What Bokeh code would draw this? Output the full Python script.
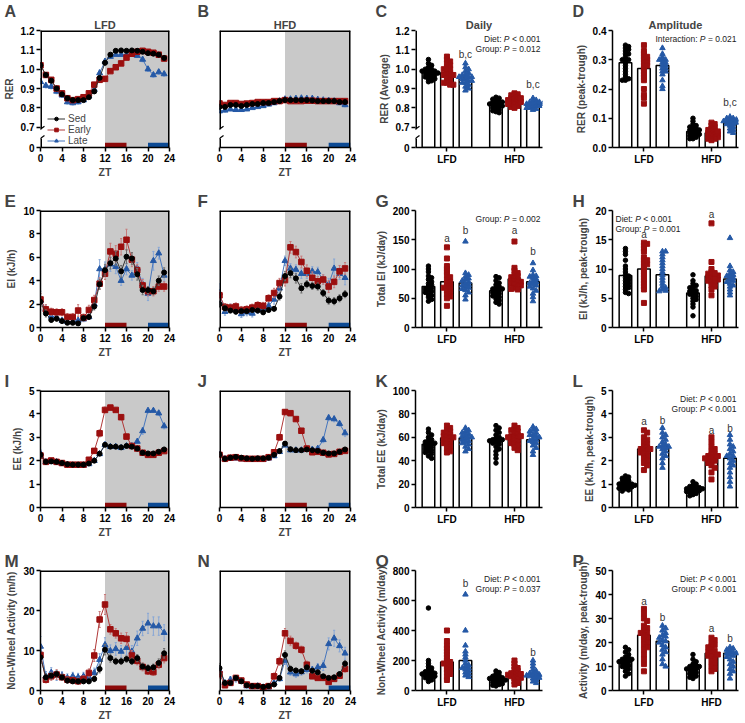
import numpy as np
from bokeh.plotting import figure
from bokeh.layouts import gridplot
from bokeh.models import (BoxAnnotation, Label, Legend, LegendItem, FixedTicker,
                          CustomJSTickFormatter, Range1d, Title)
from bokeh.embed import file_html
from bokeh.resources import INLINE

FONT = "Liberation Sans"
ZT = list(range(24))
GROUPS = ["Sed", "Early", "Late"]
DIETS = ["LFD", "HFD"]
DARK_PHASE = (12, 24)
EARLY_WINDOW = (12, 16)
LATE_WINDOW = (20, 24)
ZT_TICKS = [0, 4, 8, 12, 16, 20, 24]

# ---------------- hourly RER (A, B)
rer_lfd_sed = [1.02, 0.97, 0.94, 0.90, 0.87, 0.85, 0.84, 0.84, 0.84, 0.855, 0.885, 0.955, 1.033, 1.075, 1.095, 1.097, 1.095, 1.097, 1.095, 1.09, 1.083, 1.08, 1.075, 1.058]
rer_lfd_early = [1.02, 0.97, 0.945, 0.90, 0.875, 0.85, 0.84, 0.845, 0.855, 0.875, 0.92, 0.945, 0.95, 0.99, 1.01, 1.03, 1.06, 1.08, 1.09, 1.095, 1.09, 1.085, 1.075, 1.055]
rer_lfd_late = [0.935, 0.915, 0.91, 0.885, 0.865, 0.83, 0.825, 0.83, 0.84, 0.86, 0.895, 0.98, 1.04, 1.065, 1.075, 1.075, 1.075, 1.075, 1.07, 1.05, 1.0, 0.97, 0.985, 0.975]
rer_lfd_sed_err = [0.01, 0.01, 0.01, 0.01, 0.01, 0.008, 0.008, 0.008, 0.008, 0.008, 0.01, 0.012, 0.012, 0.008, 0.006, 0.006, 0.006, 0.006, 0.006, 0.006, 0.006, 0.006, 0.006, 0.008]
rer_lfd_early_err = [0.01, 0.01, 0.012, 0.01, 0.01, 0.01, 0.008, 0.01, 0.01, 0.01, 0.012, 0.012, 0.012, 0.01, 0.01, 0.01, 0.01, 0.01, 0.008, 0.008, 0.008, 0.008, 0.008, 0.01]
rer_lfd_late_err = [0.015, 0.012, 0.012, 0.012, 0.01, 0.01, 0.01, 0.01, 0.01, 0.012, 0.015, 0.015, 0.012, 0.01, 0.008, 0.008, 0.008, 0.008, 0.01, 0.012, 0.012, 0.012, 0.012, 0.012]

rer_hfd_sed = [0.805, 0.805, 0.815, 0.815, 0.81, 0.815, 0.82, 0.82, 0.825, 0.825, 0.83, 0.835, 0.84, 0.84, 0.84, 0.84, 0.84, 0.838, 0.835, 0.835, 0.835, 0.835, 0.83, 0.83]
rer_hfd_early = [0.823, 0.815, 0.825, 0.825, 0.82, 0.822, 0.825, 0.83, 0.83, 0.83, 0.835, 0.835, 0.84, 0.835, 0.835, 0.835, 0.837, 0.837, 0.835, 0.835, 0.835, 0.835, 0.835, 0.835]
rer_hfd_late = [0.783, 0.787, 0.793, 0.79, 0.79, 0.793, 0.80, 0.805, 0.81, 0.818, 0.825, 0.835, 0.845, 0.845, 0.848, 0.85, 0.848, 0.848, 0.843, 0.84, 0.838, 0.835, 0.825, 0.815]
rer_hfd_sed_err = [0.008, 0.008, 0.008, 0.008, 0.007, 0.007, 0.007, 0.007, 0.007, 0.007, 0.007, 0.007, 0.006, 0.006, 0.006, 0.006, 0.006, 0.006, 0.006, 0.006, 0.006, 0.006, 0.007, 0.008]
rer_hfd_early_err = [0.008, 0.008, 0.008, 0.008, 0.007, 0.007, 0.007, 0.007, 0.007, 0.007, 0.007, 0.007, 0.006, 0.006, 0.006, 0.006, 0.006, 0.006, 0.006, 0.006, 0.006, 0.006, 0.007, 0.008]
rer_hfd_late_err = [0.008, 0.008, 0.008, 0.008, 0.007, 0.007, 0.007, 0.007, 0.007, 0.007, 0.007, 0.007, 0.006, 0.006, 0.006, 0.006, 0.006, 0.006, 0.006, 0.006, 0.007, 0.008, 0.008, 0.01]

# ---------------- hourly EI (E, F)
ei_lfd_sed = [2.2, 1.2, 0.65, 0.75, 0.55, 0.4, 0.4, 0.35, 0.8, 0.9, 1.8, 3.7, 4.9, 5.5, 5.9, 4.8, 6.05, 5.9, 4.55, 3.2, 3.2, 3.1, 4.0, 4.7]
ei_lfd_early = [2.4, 1.55, 1.35, 1.3, 1.3, 0.9, 0.9, 1.45, 0.85, 1.5, 2.35, 3.75, 4.6, 6.5, 6.3, 6.9, 7.5, 5.8, 4.9, 3.6, 3.1, 3.1, 3.5, 3.5]
ei_lfd_late = [2.3, 1.55, 0.95, 0.85, 0.6, 0.5, 0.5, 0.6, 0.7, 0.9, 2.0, 5.0, 5.0, 5.4, 5.2, 4.0, 5.0, 4.45, 5.05, 3.7, 2.9, 5.7, 6.35, 4.45]
ei_lfd_sed_err = [0.4, 0.3, 0.2, 0.2, 0.2, 0.15, 0.15, 0.15, 0.2, 0.2, 0.3, 0.4, 0.5, 0.5, 0.6, 0.5, 0.6, 0.5, 0.5, 0.4, 0.3, 0.3, 0.4, 0.4]
ei_lfd_early_err = [0.5, 0.4, 0.3, 0.3, 0.3, 0.3, 0.3, 0.5, 0.3, 0.4, 0.4, 0.5, 0.5, 0.7, 0.7, 0.7, 0.9, 0.6, 0.5, 0.5, 0.4, 0.4, 0.4, 0.4]
ei_lfd_late_err = [0.8, 0.4, 0.3, 0.2, 0.2, 0.2, 0.2, 0.2, 0.2, 0.2, 0.4, 0.8, 0.6, 0.6, 0.6, 0.4, 0.5, 0.4, 0.5, 0.5, 0.6, 0.8, 0.5, 0.5]

ei_hfd_sed = [2.0, 1.65, 1.45, 1.35, 1.4, 1.4, 1.5, 1.45, 1.3, 1.5, 1.6, 2.65, 4.4, 4.65, 4.2, 3.35, 3.7, 3.55, 3.5, 2.95, 2.3, 2.25, 2.5, 2.85]
ei_hfd_early = [2.75, 1.75, 1.7, 1.8, 1.5, 1.55, 1.7, 1.9, 1.85, 2.5, 2.95, 3.8, 4.05, 6.85, 6.45, 5.6, 4.85, 4.25, 3.95, 4.1, 3.5, 3.9, 4.8, 5.05]
ei_hfd_late = [2.95, 1.35, 1.7, 1.55, 1.15, 1.3, 1.2, 1.5, 1.6, 1.85, 2.4, 3.35, 5.7, 5.05, 4.95, 4.6, 4.6, 4.8, 4.75, 4.1, 3.7, 5.05, 4.6, 4.25]
ei_hfd_sed_err = [0.3, 0.25, 0.2, 0.2, 0.2, 0.2, 0.2, 0.2, 0.2, 0.2, 0.2, 0.3, 0.4, 0.4, 0.4, 0.4, 0.3, 0.3, 0.3, 0.3, 0.3, 0.3, 0.3, 0.3]
ei_hfd_early_err = [0.4, 0.3, 0.3, 0.3, 0.3, 0.3, 0.3, 0.3, 0.3, 0.3, 0.4, 0.4, 0.5, 0.5, 0.5, 0.5, 0.5, 0.5, 0.4, 0.4, 0.5, 0.5, 0.5, 0.5]
ei_hfd_late_err = [0.8, 0.3, 0.3, 0.3, 0.3, 0.3, 0.3, 0.3, 0.3, 0.3, 0.4, 0.4, 0.4, 0.4, 0.4, 0.4, 0.4, 0.4, 0.4, 0.4, 0.5, 0.8, 0.5, 0.6]

# ---------------- hourly EE (I, J)
ee_lfd_sed = [2.25, 1.95, 1.97, 1.95, 1.9, 1.85, 1.83, 1.83, 1.83, 1.88, 2.0, 2.3, 2.68, 2.6, 2.6, 2.57, 2.63, 2.6, 2.52, 2.34, 2.31, 2.31, 2.38, 2.48]
ee_lfd_early = [2.22, 1.95, 2.01, 1.95, 1.9, 1.83, 1.83, 1.83, 1.83, 2.04, 2.42, 3.17, 4.17, 4.27, 4.17, 3.86, 3.03, 2.63, 2.52, 2.34, 2.25, 2.25, 2.34, 2.41]
ee_lfd_late = [2.31, 1.95, 1.95, 1.95, 1.87, 1.83, 1.8, 1.8, 1.8, 1.86, 2.0, 2.29, 2.68, 2.6, 2.6, 2.55, 2.63, 2.63, 2.82, 3.27, 4.14, 4.14, 4.03, 3.48]
ee_lfd_sed_err = [0.1, 0.05, 0.05, 0.05, 0.05, 0.05, 0.05, 0.05, 0.05, 0.05, 0.05, 0.07, 0.07, 0.05, 0.05, 0.05, 0.05, 0.05, 0.05, 0.05, 0.05, 0.05, 0.05, 0.07]
ee_lfd_early_err = [0.1, 0.05, 0.05, 0.05, 0.05, 0.05, 0.05, 0.05, 0.05, 0.07, 0.1, 0.15, 0.12, 0.08, 0.08, 0.1, 0.1, 0.07, 0.06, 0.05, 0.06, 0.06, 0.06, 0.08]
ee_lfd_late_err = [0.15, 0.05, 0.05, 0.05, 0.05, 0.05, 0.05, 0.05, 0.05, 0.05, 0.05, 0.07, 0.07, 0.05, 0.05, 0.05, 0.05, 0.06, 0.07, 0.15, 0.1, 0.08, 0.1, 0.12]

ee_hfd_sed = [2.27, 2.08, 2.13, 2.16, 2.13, 2.1, 2.08, 2.1, 2.1, 2.13, 2.25, 2.41, 2.73, 2.49, 2.45, 2.45, 2.48, 2.45, 2.42, 2.34, 2.31, 2.31, 2.38, 2.48]
ee_hfd_early = [2.25, 2.08, 2.13, 2.15, 2.1, 2.08, 2.08, 2.08, 2.08, 2.15, 2.36, 3.0, 4.08, 4.03, 3.78, 3.28, 2.52, 2.36, 2.38, 2.34, 2.27, 2.29, 2.38, 2.42]
ee_hfd_late = [2.27, 2.08, 2.1, 2.1, 2.07, 2.04, 2.04, 2.04, 2.04, 2.1, 2.2, 2.38, 2.66, 2.45, 2.45, 2.45, 2.49, 2.48, 2.52, 2.89, 3.83, 3.78, 3.58, 3.18]
ee_hfd_sed_err = [0.07, 0.05, 0.05, 0.05, 0.05, 0.05, 0.05, 0.05, 0.05, 0.05, 0.05, 0.07, 0.07, 0.05, 0.05, 0.05, 0.05, 0.05, 0.05, 0.05, 0.05, 0.05, 0.05, 0.06]
ee_hfd_early_err = [0.07, 0.05, 0.05, 0.05, 0.05, 0.05, 0.05, 0.05, 0.05, 0.05, 0.08, 0.13, 0.1, 0.08, 0.08, 0.1, 0.08, 0.06, 0.05, 0.05, 0.05, 0.05, 0.06, 0.07]
ee_hfd_late_err = [0.07, 0.05, 0.05, 0.05, 0.05, 0.05, 0.05, 0.05, 0.05, 0.05, 0.05, 0.07, 0.07, 0.05, 0.05, 0.05, 0.05, 0.06, 0.07, 0.12, 0.12, 0.12, 0.12, 0.15]

# ---------------- hourly non-wheel activity (M, N)
act_lfd_sed = [8.3, 3.3, 3.7, 4.1, 3.3, 2.5, 2.3, 2.3, 2.3, 2.3, 2.9, 5.4, 10.2, 8.1, 7.3, 7.3, 7.85, 7.3, 8.1, 6.0, 5.6, 5.8, 6.9, 9.3]
act_lfd_early = [8.9, 2.7, 3.55, 4.0, 3.3, 2.7, 2.55, 2.3, 2.9, 4.4, 8.75, 17.75, 21.5, 15.3, 14.3, 13.05, 12.9, 8.75, 7.4, 5.9, 4.8, 4.6, 6.45, 8.1]
act_lfd_late = [11.0, 3.55, 4.5, 3.7, 3.7, 3.15, 3.55, 3.3, 3.55, 3.3, 4.4, 7.7, 11.4, 9.9, 10.4, 9.75, 10.7, 9.75, 13.05, 15.5, 16.8, 16.1, 16.1, 14.45]
act_lfd_sed_err = [1.5, 0.8, 0.8, 0.8, 0.7, 0.7, 0.6, 0.6, 0.6, 0.6, 0.7, 1.0, 1.3, 1.0, 0.8, 0.8, 0.8, 0.8, 0.9, 0.8, 0.8, 0.8, 1.0, 1.2]
act_lfd_early_err = [2.0, 0.8, 1.0, 1.2, 0.8, 0.8, 0.8, 0.8, 0.8, 1.0, 1.5, 2.0, 2.5, 1.2, 1.2, 1.3, 1.6, 1.2, 1.0, 1.0, 0.8, 0.8, 1.0, 1.2]
act_lfd_late_err = [2.5, 1.2, 1.2, 1.2, 1.0, 1.0, 1.0, 1.0, 1.0, 1.0, 1.2, 1.5, 1.8, 1.5, 1.6, 1.5, 1.8, 1.5, 1.8, 1.8, 2.5, 2.3, 2.3, 2.0]

act_hfd_sed = [5.6, 1.9, 1.9, 3.15, 2.3, 1.3, 1.1, 1.1, 0.9, 1.1, 1.5, 3.15, 8.9, 5.4, 5.0, 4.8, 5.8, 4.95, 4.55, 3.55, 3.15, 3.3, 4.1, 6.7]
act_hfd_early = [4.1, 1.3, 1.9, 3.15, 2.5, 1.5, 1.1, 1.1, 0.8, 1.1, 3.55, 7.3, 14.3, 12.4, 11.2, 10.2, 6.45, 3.55, 3.15, 3.15, 2.15, 2.9, 3.7, 5.4]
act_hfd_late = [5.0, 1.9, 2.7, 2.9, 2.3, 1.1, 0.9, 1.1, 0.8, 0.8, 1.9, 2.9, 7.5, 4.55, 4.1, 4.6, 5.2, 5.2, 5.8, 6.2, 11.65, 13.05, 11.15, 9.3]
act_hfd_sed_err = [1.2, 0.5, 0.5, 0.6, 0.5, 0.4, 0.3, 0.3, 0.3, 0.3, 0.4, 0.6, 1.0, 0.7, 0.6, 0.6, 0.6, 0.6, 0.6, 0.5, 0.5, 0.5, 0.6, 0.8]
act_hfd_early_err = [1.0, 0.5, 0.5, 0.6, 0.5, 0.4, 0.3, 0.3, 0.3, 0.4, 0.8, 1.0, 1.2, 1.2, 0.9, 0.9, 0.9, 0.6, 0.5, 0.5, 0.5, 0.5, 0.6, 0.8]
act_hfd_late_err = [1.2, 0.6, 0.8, 0.8, 0.6, 0.4, 0.3, 0.3, 0.3, 0.3, 0.5, 0.6, 1.0, 0.8, 0.8, 0.8, 0.8, 0.8, 0.9, 1.2, 1.5, 2.0, 1.5, 1.5]

# ---------------- C: daily RER
rer_avg_means = {"LFD": [0.985, 0.98, 0.955], "HFD": [0.82, 0.83, 0.815]}
rer_avg_lfd_sed = [1.05, 1.03, 1.02, 1.01, 1.0, 1.0, 0.99, 0.99, 0.99, 0.98, 0.98, 0.98, 0.97, 0.97, 0.96, 0.96, 0.95, 0.95, 0.94, 0.935]
rer_avg_lfd_early = [1.065, 1.05, 1.04, 1.03, 1.02, 1.01, 1.0, 1.0, 0.99, 0.98, 0.97, 0.97, 0.96, 0.95, 0.94, 0.93, 0.93, 0.92, 0.92, 0.97]
rer_avg_lfd_late = [1.03, 1.01, 1.0, 0.99, 0.98, 0.97, 0.97, 0.96, 0.96, 0.95, 0.95, 0.94, 0.94, 0.93, 0.93, 0.92, 0.91, 0.90, 0.89, 0.96]
rer_avg_hfd_sed = [0.855, 0.85, 0.845, 0.84, 0.835, 0.83, 0.825, 0.82, 0.82, 0.815, 0.81, 0.805, 0.80, 0.795, 0.79, 0.785, 0.78, 0.775, 0.83, 0.81]
rer_avg_hfd_early = [0.875, 0.87, 0.865, 0.86, 0.855, 0.85, 0.845, 0.84, 0.835, 0.83, 0.825, 0.82, 0.815, 0.81, 0.805, 0.80, 0.84, 0.83, 0.85, 0.82]
rer_avg_hfd_late = [0.85, 0.84, 0.835, 0.83, 0.825, 0.82, 0.82, 0.815, 0.81, 0.81, 0.805, 0.80, 0.80, 0.795, 0.79, 0.83, 0.82]

# ---------------- D: RER amplitude
rer_amp_means = {"LFD": [0.29, 0.27, 0.28], "HFD": [0.055, 0.05, 0.085]}
rer_amp_lfd_sed = [0.35, 0.345, 0.34, 0.335, 0.33, 0.32, 0.31, 0.30, 0.30, 0.29, 0.28, 0.27, 0.26, 0.25, 0.24, 0.235, 0.23, 0.23, 0.30, 0.32]
rer_amp_lfd_early = [0.35, 0.33, 0.32, 0.31, 0.30, 0.30, 0.29, 0.28, 0.27, 0.26, 0.25, 0.24, 0.23, 0.20, 0.18, 0.17, 0.15, 0.29, 0.31, 0.28]
rer_amp_lfd_late = [0.34, 0.32, 0.31, 0.30, 0.30, 0.29, 0.29, 0.28, 0.28, 0.27, 0.27, 0.26, 0.26, 0.25, 0.23, 0.21, 0.20, 0.30]
rer_amp_hfd_sed = [0.10, 0.09, 0.08, 0.075, 0.07, 0.065, 0.06, 0.06, 0.055, 0.05, 0.05, 0.045, 0.045, 0.04, 0.04, 0.035, 0.03, 0.03, 0.06, 0.07]
rer_amp_hfd_early = [0.085, 0.08, 0.075, 0.07, 0.065, 0.06, 0.055, 0.05, 0.05, 0.045, 0.045, 0.04, 0.04, 0.035, 0.035, 0.03, 0.03, 0.025, 0.06, 0.055]
rer_amp_hfd_late = [0.105, 0.10, 0.10, 0.095, 0.09, 0.09, 0.085, 0.085, 0.08, 0.08, 0.075, 0.07, 0.065, 0.06, 0.055, 0.05, 0.09, 0.095]

# ---------------- G: total EI
ei_tot_means = {"LFD": [70, 78, 76], "HFD": [63, 83, 78]}
ei_tot_lfd_sed = [105, 100, 95, 88, 85, 82, 78, 75, 73, 70, 68, 66, 64, 62, 60, 57, 55, 52, 48, 45]
ei_tot_lfd_early = [137, 118, 105, 100, 95, 90, 86, 82, 78, 75, 72, 70, 68, 66, 63, 60, 57, 53, 50, 37]
ei_tot_lfd_late = [147, 93, 90, 87, 84, 82, 80, 78, 75, 73, 72, 70, 68, 66, 64, 60, 55, 48]
ei_tot_hfd_sed = [87, 85, 80, 76, 73, 70, 68, 66, 64, 62, 60, 58, 56, 54, 52, 49, 46, 43, 40, 66]
ei_tot_hfd_early = [147, 102, 97, 93, 90, 88, 86, 84, 82, 80, 79, 78, 76, 75, 73, 72, 70, 68, 66, 65]
ei_tot_hfd_late = [110, 98, 90, 88, 87, 85, 83, 80, 78, 76, 74, 72, 70, 67, 63, 58, 52, 45]

# ---------------- H: EI amplitude
ei_amp_means = {"LFD": [8.9, 10.0, 9.0], "HFD": [5.9, 8.8, 8.3]}
ei_amp_lfd_sed = [13.5, 13.0, 12.5, 11.5, 10.5, 10.0, 9.5, 9.0, 8.8, 8.5, 8.3, 8.0, 7.8, 7.5, 7.3, 7.0, 6.8, 6.5, 6.0, 5.8]
ei_amp_lfd_early = [14.5, 14.3, 14.0, 13.5, 13.0, 12.0, 11.5, 11.0, 10.5, 10.0, 9.5, 9.0, 8.5, 8.0, 7.5, 7.0, 6.5, 4.2, 10.8, 11.5]
ei_amp_lfd_late = [13.0, 13.0, 12.5, 12.0, 11.5, 11.0, 10.5, 10.0, 9.5, 9.0, 8.5, 8.0, 7.5, 7.0, 6.8, 6.5, 6.3, 6.2]
ei_amp_hfd_sed = [9.0, 8.0, 7.5, 7.2, 7.0, 6.8, 6.5, 6.3, 6.0, 5.8, 5.5, 5.3, 5.0, 4.8, 4.5, 4.0, 3.5, 2.0, 6.2, 5.7]
ei_amp_hfd_early = [17.8, 11.2, 10.0, 9.5, 9.2, 9.0, 8.8, 8.6, 8.4, 8.2, 8.0, 7.8, 7.5, 7.2, 7.0, 6.5, 5.5, 8.9, 8.3, 9.3]
ei_amp_hfd_late = [15.3, 10.5, 9.8, 9.5, 9.2, 9.0, 8.8, 8.5, 8.2, 8.0, 7.8, 7.5, 7.2, 7.0, 6.5, 6.0, 5.5, 8.7]

# ---------------- K: total EE
ee_tot_means = {"LFD": [54, 59.5, 59.5], "HFD": [56, 59.5, 58]}
ee_tot_lfd_sed = [67, 64, 62, 60, 58, 57, 56, 55, 54, 53, 52, 51, 50, 49, 48, 47, 46, 44, 42, 55]
ee_tot_lfd_early = [70, 68, 66, 65, 64, 63, 62, 61, 60, 59, 58, 57, 56, 55, 54, 52, 50, 48, 47, 60]
ee_tot_lfd_late = [68, 66, 65, 64, 63, 62, 61, 60, 59, 58, 57, 56, 55, 54, 52, 50, 48, 60]
ee_tot_hfd_sed = [70, 68, 66, 64, 62, 60, 59, 58, 57, 56, 55, 54, 52, 50, 48, 45, 42, 38, 57, 58]
ee_tot_hfd_early = [70, 68, 67, 66, 65, 63, 62, 61, 60, 59, 58, 57, 56, 55, 54, 53, 51, 49, 60, 61]
ee_tot_hfd_late = [69, 67, 66, 65, 64, 62, 61, 60, 59, 58, 57, 56, 55, 53, 51, 48, 45, 62]

# ---------------- L: EE amplitude
ee_amp_means = {"LFD": [1.0, 2.5, 2.6], "HFD": [0.8, 2.1, 2.1]}
ee_amp_lfd_sed = [1.35, 1.3, 1.25, 1.2, 1.15, 1.1, 1.05, 1.0, 1.0, 0.98, 0.95, 0.93, 0.9, 0.88, 0.85, 0.82, 0.8, 0.75, 0.7, 1.02]
ee_amp_lfd_early = [3.3, 3.2, 3.0, 2.9, 2.8, 2.7, 2.6, 2.55, 2.5, 2.45, 2.4, 2.35, 2.3, 2.2, 2.1, 2.0, 1.9, 1.8, 1.6, 2.5]
ee_amp_lfd_late = [3.4, 3.2, 3.1, 3.0, 2.9, 2.8, 2.7, 2.65, 2.6, 2.55, 2.5, 2.4, 2.3, 2.2, 2.1, 1.9, 1.7, 2.6]
ee_amp_hfd_sed = [1.1, 1.0, 0.95, 0.9, 0.88, 0.85, 0.82, 0.8, 0.78, 0.75, 0.72, 0.7, 0.68, 0.65, 0.6, 0.55, 0.5, 0.8]
ee_amp_hfd_early = [3.0, 2.8, 2.6, 2.5, 2.4, 2.3, 2.25, 2.2, 2.15, 2.1, 2.05, 2.0, 1.95, 1.9, 1.8, 1.7, 1.5, 1.2, 2.1, 2.2]
ee_amp_hfd_late = [3.1, 2.9, 2.7, 2.6, 2.5, 2.4, 2.3, 2.2, 2.1, 2.0, 1.9, 1.8, 1.7, 1.5, 1.3, 1.1, 0.9, 2.2]

# ---------------- O: total non-wheel activity
act_tot_means = {"LFD": [120, 190, 200], "HFD": [75, 110, 110]}
act_tot_lfd_sed = [550, 200, 180, 160, 150, 140, 130, 125, 120, 115, 110, 105, 100, 95, 90, 85, 80, 70, 60, 110]
act_tot_lfd_early = [400, 330, 300, 280, 260, 240, 220, 200, 190, 180, 170, 160, 150, 140, 130, 120, 110, 90, 70, 180]
act_tot_lfd_late = [640, 400, 300, 260, 240, 220, 200, 180, 170, 160, 150, 140, 130, 120, 110, 100, 90, 150]
act_tot_hfd_sed = [130, 120, 110, 100, 95, 90, 85, 80, 75, 70, 65, 60, 55, 50, 45, 40, 35, 30, 70, 80]
act_tot_hfd_early = [200, 180, 160, 150, 140, 130, 120, 115, 110, 105, 100, 95, 90, 85, 80, 70, 60, 50, 40, 110]
act_tot_hfd_late = [200, 180, 160, 140, 130, 120, 115, 110, 105, 100, 95, 90, 85, 80, 70, 60, 50, 100]

# ---------------- P: activity amplitude
act_amp_means = {"LFD": [12, 23, 20.5], "HFD": [9, 15.5, 15.5]}
act_amp_lfd_sed = [18, 17, 16, 15, 14, 13.5, 13, 12.5, 12, 11.5, 11, 10.5, 10, 9.5, 9, 8, 7, 6, 12, 13]
act_amp_lfd_early = [34, 32, 30, 29, 27, 26, 25, 24, 23, 22, 21, 20, 19, 18, 17, 15, 13, 11, 8, 24]
act_amp_lfd_late = [27, 26, 25, 24, 23, 22.5, 22, 21, 20.5, 20, 19, 18, 17, 16, 15, 13, 11, 10]
act_amp_hfd_sed = [15, 13, 12, 11, 10.5, 10, 9.5, 9, 8.5, 8, 7.5, 7, 6.5, 6, 5.5, 5, 9, 10]
act_amp_hfd_early = [22, 21, 20, 19, 18.5, 18, 17, 16.5, 16, 15.5, 15, 14.5, 14, 13, 12, 11, 10, 9, 8, 15]
act_amp_hfd_late = [18, 17.5, 17, 16.5, 16, 15.5, 15, 14.5, 14, 13, 12, 11, 10, 9, 8, 7, 5, 15.5]

# ---------------- styling
COL = {"Sed": "#000000", "Early": "#9B0F0F", "Late": "#2559A6"}
LINE_COL = {"Sed": "#303030", "Early": "#B03838", "Late": "#4676BD"}
ERR_COL = {"Sed": "#6E6E6E", "Early": "#C77A7A", "Late": "#86A6D6"}
MARK = {"Sed": "circle", "Early": "square", "Late": "triangle"}
MSIZE = {"Sed": 5, "Early": 5.5, "Late": 6}
GREY = "#C9C9C9"
RED_BAR = "#8C0A0A"
BLUE_BAR = "#0C4A94"

COLS = [dict(w=185, l=39, r=16), dict(w=185, l=34, r=20),
        dict(w=185, l=45, r=13), dict(w=190, l=57, r=7)]
ROWS = [dict(h=180, t=30, b=29), dict(h=180, t=30, b=29),
        dict(h=180, t=30, b=29), dict(h=183, t=30, b=32)]
FRAME_H = 121
LETTER_DX = [-36, -22, -40, -40]
STAT_SIZE = 8.5
NBSP = "\u00a0"

# Arial / Liberation Sans advance widths (per 1000 em) for the statistics text
ADV = {" ": 278, NBSP: 278, ":": 278, ".": 278, "<": 584, "=": 584, "D": 722, "G": 778,
       "I": 278, "P": 667, "a": 556, "c": 500, "e": 556, "i": 222, "n": 556, "o": 556,
       "p": 556, "r": 333, "t": 278, "u": 556}


def text_w(s, size=STAT_SIZE):
    return sum(ADV.get(ch, 556) for ch in s) * size / 1000.0


def brk(v):
    return v if v >= 0.7 else 0.595 + v * 0.15


def make_fig(col, row, xr, yr, letter, title=None):
    c, r = COLS[col], ROWS[row]
    p = figure(width=c["w"], height=r["h"], min_border_left=c["l"], min_border_right=c["r"],
               min_border_top=r["t"], min_border_bottom=r["b"], x_range=xr, y_range=yr,
               output_backend="svg", toolbar_location=None, tools="")
    p.xgrid.visible = False
    p.ygrid.visible = False
    p.outline_line_color = None
    p.background_fill_color = "white"
    p.border_fill_color = "white"
    for ax in (p.below[0], p.left[0]):
        ax.axis_line_width = 1.5
        ax.axis_line_color = "black"
        ax.major_tick_line_width = 1.5
        ax.major_tick_out = 4
        ax.major_tick_in = 0
        ax.minor_tick_line_color = None
        ax.major_label_text_font = FONT
        ax.major_label_text_font_style = "bold"
        ax.major_label_text_font_size = "10px"
        ax.major_label_text_color = "black"
        ax.major_label_standoff = 2
        ax.axis_label_text_font = FONT
        ax.axis_label_text_font_style = "bold"
        ax.axis_label_text_font_size = "10px"
        ax.axis_label_standoff = 3
    if title:
        p.add_layout(Title(text=title, align="center", text_font=FONT, text_font_style="bold",
                           text_font_size="11px", standoff=-1), "above")
    p.title.text = letter
    p.title.align = "left"
    p.title.offset = LETTER_DX[col]
    p.title.standoff = -4 if title else 0
    p.title.text_font = FONT
    p.title.text_font_style = "bold"
    p.title.text_font_size = "16px" if title else "17px"
    return p


def draw_broken_axis(p, ux):
    # y axis drawn as two pieces with a gap and slash marks
    p.left[0].axis_line_color = None
    x0 = p.x_range.start
    p.segment(x0=[x0, x0], y0=[p.y_range.start, 0.69], x1=[x0, x0], y1=[0.642, p.y_range.end],
              line_color="black", line_width=3)
    dx = 4.0 / ux
    dy = 3.0 / 200.0
    for yy in (0.69, 0.642):
        p.segment(x0=[x0 - dx], y0=[yy - dy], x1=[x0 + dx], y1=[yy + dy], line_color="black",
                  line_width=1.2)


def line_panel(col, row, letter, series, errs, y_lo, y_hi, yticks, ylabel=None, fmt=None,
               title=None, legend=False, ybreak=False):
    p = make_fig(col, row, Range1d(0, 24), Range1d(y_lo, y_hi), letter, title)
    xax, yax = p.below[0], p.left[0]
    p.add_layout(BoxAnnotation(left=DARK_PHASE[0], right=DARK_PHASE[1], fill_color=GREY,
                               fill_alpha=1.0, line_color=None, level="underlay"))
    h = 5.0 / FRAME_H * (y_hi - y_lo)
    p.quad(left=[EARLY_WINDOW[0]], right=[EARLY_WINDOW[1]], bottom=[y_lo], top=[y_lo + h],
           fill_color=RED_BAR, line_color=None)
    p.quad(left=[LATE_WINDOW[0]], right=[LATE_WINDOW[1]], bottom=[y_lo], top=[y_lo + h],
           fill_color=BLUE_BAR, line_color=None)
    x = np.array(ZT, dtype=float)
    rends = {}
    for g in ["Late", "Early", "Sed"]:
        m = np.array(series[g], dtype=float)
        e = np.array(errs[g], dtype=float)
        p.segment(x0=x, y0=m - e, x1=x, y1=m + e, line_color=ERR_COL[g], line_width=1)
        p.segment(x0=x - 0.2, y0=m + e, x1=x + 0.2, y1=m + e, line_color=ERR_COL[g], line_width=1)
        p.segment(x0=x - 0.2, y0=m - e, x1=x + 0.2, y1=m - e, line_color=ERR_COL[g], line_width=1)
        lr = p.line(x, m, line_color=LINE_COL[g], line_width=1)
        sr = p.scatter(x, m, marker=MARK[g], size=MSIZE[g], fill_color=COL[g], line_color=COL[g])
        rends[g] = [lr, sr]
    # frame box: top and right edges (half of a 3px line is inside the frame)
    p.segment(x0=[0, 24], y0=[y_hi, y_lo], x1=[24, 24], y1=[y_hi, y_hi],
              line_color="black", line_width=3)
    xax.ticker = FixedTicker(ticks=ZT_TICKS)
    xax.axis_label = "ZT"
    xax.axis_label_standoff = 1
    xax.axis_label_text_font_size = "10.5px"
    yax.ticker = FixedTicker(ticks=yticks)
    if fmt:
        yax.formatter = CustomJSTickFormatter(code=fmt)
    if ylabel:
        yax.axis_label = ylabel
    else:
        yax.visible = False
        if not ybreak:
            p.segment(x0=[0], y0=[y_lo], x1=[0], y1=[y_hi], line_color="black", line_width=3)
    if ybreak:
        draw_broken_axis(p, 130 / 24.0)
    if legend:
        lg = Legend(items=[LegendItem(label=g, renderers=rends[g]) for g in GROUPS],
                    location=(7, 1), background_fill_alpha=0, border_line_color=None,
                    label_text_font=FONT, label_text_font_size="10px", glyph_width=18,
                    glyph_height=9, label_height=9, spacing=0, padding=0, margin=0,
                    label_standoff=3)
        p.add_layout(lg)
    return p


def swarm(vals, center, ux, uy, d=2.9):
    vals = np.asarray(vals, dtype=float)
    order = np.argsort(-vals, kind="stable")
    step = d * 0.55
    cands = [0.0]
    for k in range(1, 16):
        cands += [k * step, -k * step]
    placed = []
    xs = np.empty(len(vals))
    for i in order:
        yv = vals[i] * uy
        chosen = cands[-1]
        for c in cands:
            if all((c - px) ** 2 + (yv - py) ** 2 >= d * d for px, py in placed):
                chosen = c
                break
        placed.append((chosen, yv))
        xs[i] = center + chosen / ux
    return xs


def stat_line(p, x_anchor, y, dx, dy, name, rest, left):
    # "name: " + italic "P" + rest, laid out with font advance widths
    rest = rest.replace(" ", NBSP)
    parts = [(name + ":" + NBSP, "normal"), ("P", "italic"), (rest, "normal")]
    widths = [text_w(t) for t, _ in parts]
    if left:
        starts = [dx, dx + widths[0], dx + widths[0] + widths[1]]
    else:
        total = sum(widths)
        starts = [dx - total, dx - total + widths[0], dx - total + widths[0] + widths[1]]
    for (t, style), sx in zip(parts, starts):
        p.add_layout(Label(x=x_anchor, y=y, x_offset=sx, y_offset=dy, text=t, text_font=FONT,
                           text_font_size=f"{STAT_SIZE}px", text_font_style=style,
                           text_color="#222222", text_align="left", text_baseline="top"))


PX_PER_UNIT = 18.5
FRAME_W = {2: 127, 3: 126}
GROUP_CENTERS = [1.70, 5.35]
BAR_W = 0.68


def bar_panel(col, row, letter, means, points, y_lo, y_hi, yticks, ylabel, fmt=None,
              ybreak=False, stats=(), stats_left=False, sig=(), title=None):
    xend = FRAME_W[col] / PX_PER_UNIT
    p = make_fig(col, row, Range1d(0, xend), Range1d(y_lo, y_hi), letter, title)
    xax, yax = p.below[0], p.left[0]
    uy = FRAME_H / (y_hi - y_lo)
    base = brk(0) if ybreak else 0
    for di, d in enumerate(DIETS):
        for gi, g in enumerate(GROUPS):
            xc = GROUP_CENTERS[di] + (gi - 1) * 1.0
            p.vbar(x=[xc], top=[means[d][gi]], bottom=base, width=BAR_W, fill_color="white",
                   line_color="black", line_width=1.5)
    for di, d in enumerate(DIETS):
        for gi, g in enumerate(GROUPS):
            xc = GROUP_CENTERS[di] + (gi - 1) * 1.0
            vals = points[d][gi]
            xs = swarm(vals, xc, PX_PER_UNIT, uy)
            p.scatter(xs, vals, marker=MARK[g], size=MSIZE[g] - 0.5, fill_color=COL[g],
                      line_color=COL[g])
    xax.ticker = FixedTicker(ticks=GROUP_CENTERS)
    xax.formatter = CustomJSTickFormatter(args=dict(names=DIETS),
                                          code="return tick < 3.5 ? names[0] : names[1];")
    yax.ticker = FixedTicker(ticks=yticks)
    if fmt:
        yax.formatter = CustomJSTickFormatter(code=fmt)
    yax.axis_label = ylabel
    if ybreak:
        draw_broken_axis(p, PX_PER_UNIT)
    for i, (name, rest) in enumerate(stats):
        if stats_left:
            stat_line(p, 0, y_hi, 3, -3 - 10 * i, name, rest, True)
        else:
            stat_line(p, xend, y_hi, -2, -3 - 10 * i, name, rest, False)
    for di, gi, txt, yv in sig:
        xc = GROUP_CENTERS[di] + (gi - 1) * 1.0
        p.add_layout(Label(x=xc, y=yv, text=txt, text_font=FONT, text_font_size="10px",
                           text_color="#333333", text_align="center", text_baseline="bottom"))
    return p


RER_FMT = "return tick < 0.65 ? '0' : tick.toFixed(1);"
ONE_DEC = "return tick.toFixed(1);"
RER_TICKS = [brk(0), 0.7, 0.8, 0.9, 1.0, 1.1, 1.2]

pA = line_panel(0, 0, "A", {"Sed": rer_lfd_sed, "Early": rer_lfd_early, "Late": rer_lfd_late},
                {"Sed": rer_lfd_sed_err, "Early": rer_lfd_early_err, "Late": rer_lfd_late_err},
                brk(0), 1.2, RER_TICKS, "RER", fmt=RER_FMT, title="LFD", legend=True, ybreak=True)
pB = line_panel(1, 0, "B", {"Sed": rer_hfd_sed, "Early": rer_hfd_early, "Late": rer_hfd_late},
                {"Sed": rer_hfd_sed_err, "Early": rer_hfd_early_err, "Late": rer_hfd_late_err},
                brk(0), 1.2, RER_TICKS, None, title="HFD", ybreak=True)
pC = bar_panel(2, 0, "C", rer_avg_means,
               {"LFD": [rer_avg_lfd_sed, rer_avg_lfd_early, rer_avg_lfd_late],
                "HFD": [rer_avg_hfd_sed, rer_avg_hfd_early, rer_avg_hfd_late]},
               brk(0), 1.2, RER_TICKS, "RER (Average)", fmt=RER_FMT, ybreak=True,
               stats=[("Diet", " < 0.001"), ("Group", " = 0.012")],
               sig=[(0, 2, "b,c", 1.045), (1, 2, "b,c", 0.89)], title="Daily")
pD = bar_panel(3, 0, "D", rer_amp_means,
               {"LFD": [rer_amp_lfd_sed, rer_amp_lfd_early, rer_amp_lfd_late],
                "HFD": [rer_amp_hfd_sed, rer_amp_hfd_early, rer_amp_hfd_late]},
               0, 0.4, [0, 0.1, 0.2, 0.3, 0.4], "RER (peak-trough)", fmt=ONE_DEC,
               stats=[("Interaction", " = 0.021")], sig=[(1, 2, "b,c", 0.135)], title="Amplitude")

pE = line_panel(0, 1, "E", {"Sed": ei_lfd_sed, "Early": ei_lfd_early, "Late": ei_lfd_late},
                {"Sed": ei_lfd_sed_err, "Early": ei_lfd_early_err, "Late": ei_lfd_late_err},
                0, 10, [0, 2, 4, 6, 8, 10], "EI (kJ/h)")
pF = line_panel(1, 1, "F", {"Sed": ei_hfd_sed, "Early": ei_hfd_early, "Late": ei_hfd_late},
                {"Sed": ei_hfd_sed_err, "Early": ei_hfd_early_err, "Late": ei_hfd_late_err},
                0, 10, [0, 2, 4, 6, 8, 10], None)
pG = bar_panel(2, 1, "G", ei_tot_means,
               {"LFD": [ei_tot_lfd_sed, ei_tot_lfd_early, ei_tot_lfd_late],
                "HFD": [ei_tot_hfd_sed, ei_tot_hfd_early, ei_tot_hfd_late]},
               0, 200, [0, 50, 100, 150, 200], "Total EI (kJ/day)",
               stats=[("Group", " = 0.002")],
               sig=[(0, 1, "a", 143), (0, 2, "b", 157), (1, 1, "a", 157), (1, 2, "b", 121)])
pH = bar_panel(3, 1, "H", ei_amp_means,
               {"LFD": [ei_amp_lfd_sed, ei_amp_lfd_early, ei_amp_lfd_late],
                "HFD": [ei_amp_hfd_sed, ei_amp_hfd_early, ei_amp_hfd_late]},
               0, 20, [0, 5, 10, 15, 20], "EI (kJ/h, peak-trough)",
               stats=[("Diet", " < 0.001"), ("Group", " = 0.001")], stats_left=True,
               sig=[(0, 1, "a", 15.0), (1, 1, "a", 18.4)])

pI = line_panel(0, 2, "I", {"Sed": ee_lfd_sed, "Early": ee_lfd_early, "Late": ee_lfd_late},
                {"Sed": ee_lfd_sed_err, "Early": ee_lfd_early_err, "Late": ee_lfd_late_err},
                0, 5, [0, 1, 2, 3, 4, 5], "EE (kJ/h)")
pJ = line_panel(1, 2, "J", {"Sed": ee_hfd_sed, "Early": ee_hfd_early, "Late": ee_hfd_late},
                {"Sed": ee_hfd_sed_err, "Early": ee_hfd_early_err, "Late": ee_hfd_late_err},
                0, 5, [0, 1, 2, 3, 4, 5], None)
pK = bar_panel(2, 2, "K", ee_tot_means,
               {"LFD": [ee_tot_lfd_sed, ee_tot_lfd_early, ee_tot_lfd_late],
                "HFD": [ee_tot_hfd_sed, ee_tot_hfd_early, ee_tot_hfd_late]},
               0, 100, [0, 20, 40, 60, 80, 100], "Total EE (kJ/day)")
pL = bar_panel(3, 2, "L", ee_amp_means,
               {"LFD": [ee_amp_lfd_sed, ee_amp_lfd_early, ee_amp_lfd_late],
                "HFD": [ee_amp_hfd_sed, ee_amp_hfd_early, ee_amp_hfd_late]},
               0, 5, [0, 1, 2, 3, 4, 5], "EE (kJ/h, peak-trough)",
               stats=[("Diet", " < 0.001"), ("Group", " < 0.001")],
               sig=[(0, 1, "a", 3.45), (0, 2, "b", 3.5), (1, 1, "a", 3.05), (1, 2, "b", 3.15)])

pM = line_panel(0, 3, "M", {"Sed": act_lfd_sed, "Early": act_lfd_early, "Late": act_lfd_late},
                {"Sed": act_lfd_sed_err, "Early": act_lfd_early_err, "Late": act_lfd_late_err},
                0, 30, [0, 10, 20, 30], "Non-Wheel Activity (m/h)")
pN = line_panel(1, 3, "N", {"Sed": act_hfd_sed, "Early": act_hfd_early, "Late": act_hfd_late},
                {"Sed": act_hfd_sed_err, "Early": act_hfd_early_err, "Late": act_hfd_late_err},
                0, 30, [0, 10, 20, 30], None)
pO = bar_panel(2, 3, "O", act_tot_means,
               {"LFD": [act_tot_lfd_sed, act_tot_lfd_early, act_tot_lfd_late],
                "HFD": [act_tot_hfd_sed, act_tot_hfd_early, act_tot_hfd_late]},
               0, 800, [0, 200, 400, 600, 800], "Non-Wheel Activity (m/day)",
               stats=[("Diet", " < 0.001"), ("Group", " = 0.037")],
               sig=[(0, 2, "b", 680), (1, 2, "b", 215)])
pP = bar_panel(3, 3, "P", act_amp_means,
               {"LFD": [act_amp_lfd_sed, act_amp_lfd_early, act_amp_lfd_late],
                "HFD": [act_amp_hfd_sed, act_amp_hfd_early, act_amp_hfd_late]},
               0, 50, [0, 10, 20, 30, 40, 50], "Activity (m/day, peak-trough)",
               stats=[("Diet", " < 0.001"), ("Group", " < 0.001")],
               sig=[(0, 1, "a", 35), (0, 2, "b", 28), (1, 1, "a", 23.5), (1, 2, "b", 19.5)])

grid = gridplot([[pA, pB, pC, pD], [pE, pF, pG, pH], [pI, pJ, pK, pL], [pM, pN, pO, pP]],
                toolbar_location=None)

open("out.html", "w").write(file_html(grid, INLINE))
